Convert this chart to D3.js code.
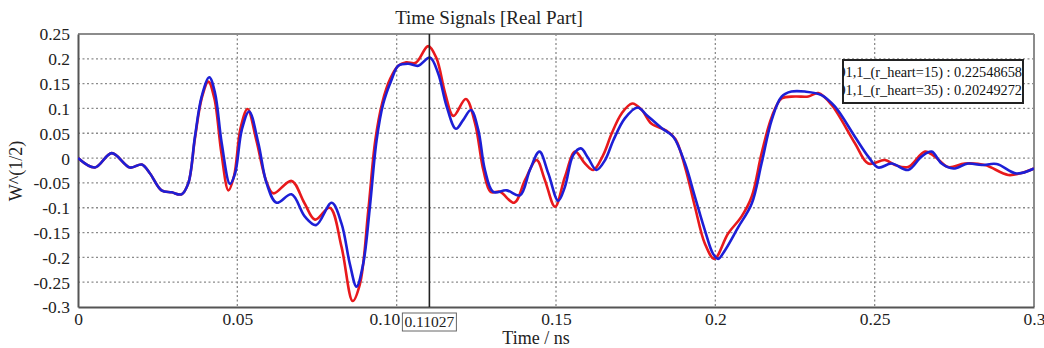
<!DOCTYPE html>
<html>
<head>
<meta charset="utf-8">
<script src="https://cdn.jsdelivr.net/npm/d3@7"></script>
<style>
  body { margin: 0; background: #ffffff; }
  svg text { font-family: "Liberation Serif", "DejaVu Serif", serif; fill: #222; }
</style>
</head>
<body>
<div id="chart"></div>
<script>
// data
var red_t = [0,0.0053,0.0106,0.0163,0.02,0.0226,0.0262,0.0294,0.0325,0.0346,0.0367,0.0388,0.0409,0.0428,0.045,0.0472,0.049,0.051,0.0532,0.056,0.059,0.0613,0.067,0.071,0.0744,0.079,0.0827,0.0862,0.0885,0.0911,0.0933,0.0955,0.098,0.1005,0.103,0.106,0.1099,0.1125,0.1152,0.1178,0.1217,0.1246,0.1272,0.1295,0.1324,0.1369,0.1403,0.1439,0.1465,0.1497,0.1528,0.156,0.1591,0.1617,0.1648,0.1675,0.1706,0.1739,0.1769,0.18,0.1847,0.1875,0.1905,0.1936,0.1967,0.1997,0.204,0.2082,0.2114,0.2145,0.2177,0.2208,0.225,0.2292,0.2323,0.2365,0.2438,0.248,0.2532,0.2564,0.2605,0.2658,0.2689,0.2731,0.2783,0.2846,0.2919,0.2961,0.3]
var red_v = [0,-0.019,0.01,-0.019,-0.013,-0.031,-0.065,-0.069,-0.073,-0.051,0.04,0.12,0.154,0.12,0.01,-0.065,-0.035,0.06,0.099,0.035,-0.045,-0.071,-0.046,-0.09,-0.124,-0.1,-0.179,-0.288,-0.253,-0.105,0.036,0.112,0.16,0.186,0.193,0.192,0.2255,0.201,0.131,0.085,0.119,0.07,-0.024,-0.068,-0.068,-0.09,-0.044,-0.004,-0.044,-0.098,-0.038,0.013,-0.011,-0.024,0.006,0.05,0.09,0.11,0.097,0.069,0.055,0.038,-0.018,-0.098,-0.172,-0.203,-0.152,-0.118,-0.078,0.009,0.083,0.12,0.124,0.124,0.131,0.107,0.03,-0.011,-0.004,-0.014,-0.018,0.013,0.003,-0.018,-0.011,-0.014,-0.034,-0.03,-0.021]

var blue_t = [0,0.0053,0.0106,0.0163,0.02,0.0226,0.0262,0.0294,0.0325,0.0346,0.0367,0.0388,0.0412,0.043,0.0451,0.0477,0.0493,0.0514,0.0537,0.0566,0.0592,0.0623,0.067,0.0712,0.0747,0.0796,0.0827,0.0853,0.0874,0.0895,0.0916,0.0937,0.0958,0.0984,0.1005,0.1036,0.1068,0.1104,0.113,0.1157,0.1186,0.1209,0.1233,0.1256,0.1277,0.1303,0.1345,0.1387,0.1418,0.1448,0.1476,0.1507,0.1528,0.1554,0.1578,0.1601,0.1627,0.1654,0.168,0.1716,0.1756,0.1784,0.1832,0.1868,0.1905,0.1936,0.1967,0.1993,0.2009,0.203,0.2072,0.2114,0.2145,0.2177,0.2208,0.2239,0.2281,0.2333,0.2375,0.2438,0.248,0.2511,0.2553,0.2605,0.2647,0.2679,0.271,0.2747,0.2793,0.2836,0.2883,0.2945,0.3]
var blue_v = [0,-0.019,0.01,-0.019,-0.013,-0.031,-0.065,-0.069,-0.073,-0.051,0.043,0.124,0.163,0.131,0.03,-0.052,-0.031,0.057,0.094,0.03,-0.051,-0.09,-0.073,-0.118,-0.135,-0.09,-0.132,-0.213,-0.259,-0.213,-0.098,0.036,0.11,0.158,0.186,0.19,0.186,0.2025,0.171,0.104,0.059,0.077,0.097,0.057,-0.024,-0.068,-0.065,-0.075,-0.024,0.013,-0.031,-0.086,-0.058,0.006,0.0195,0,-0.024,-0.004,0.036,0.08,0.102,0.087,0.06,0.043,-0.011,-0.078,-0.145,-0.193,-0.203,-0.186,-0.139,-0.092,-0.011,0.077,0.124,0.134,0.134,0.127,0.104,0.043,0.003,-0.019,-0.011,-0.024,0.003,0.013,-0.011,-0.021,-0.011,-0.014,-0.012,-0.031,-0.021]

var x_ticks = [0,0.05,0.1,0.15,0.2,0.25,0.3]
var x_labels = ["0","0.05","0.10","0.15","0.2","0.25","0.3"]
var y_ticks = [0.25,0.2,0.15,0.1,0.05,0,-0.05,-0.1,-0.15,-0.2,-0.25,-0.3]
var y_labels = ["0.25","0.2","0.15","0.1","0.05","0","-0.05","-0.1","-0.15","-0.2","-0.25","-0.3"]
var marker_t = 0.11027
var legend_lines = ["01,1_(r_heart=15) : 0.22548658","01,1_(r_heart=35) : 0.20249272"]

var width = 1044, height = 348
var p_left = 78, p_right = 1034, p_top = 34, p_bottom = 307

var svg = d3.select("#chart").append("svg")
  .attr("width", width).attr("height", height)

var x = d3.scaleLinear().domain([0,0.3]).range([p_left,p_right])
var y = d3.scaleLinear().domain([-0.3,0.25]).range([p_bottom,p_top])

//grid
svg.append("g").selectAll("line")
  .data(x_ticks.slice(1,-1)).enter().append("line")
  .attr("x1", function(d){return x(d)}).attr("x2", function(d){return x(d)})
  .attr("y1", p_top).attr("y2", p_bottom)
  .style("stroke", "#8a8a8a").style("stroke-width", 1.3).style("stroke-dasharray", "2,2.5")
svg.append("g").selectAll("line")
  .data(y_ticks.slice(1,-1)).enter().append("line")
  .attr("x1", p_left).attr("x2", p_right)
  .attr("y1", function(d){return y(d)}).attr("y2", function(d){return y(d)})
  .style("stroke", "#8a8a8a").style("stroke-width", 1.3).style("stroke-dasharray", "2,2.5")

//frame
svg.append("line").attr("x1", p_left).attr("x2", p_right).attr("y1", p_top).attr("y2", p_top)
  .style("stroke", "#8c8c8c").style("stroke-width", 2)
svg.append("line").attr("x1", p_right).attr("x2", p_right).attr("y1", p_top).attr("y2", p_bottom)
  .style("stroke", "#8c8c8c").style("stroke-width", 2)

//axes
var xAxis = d3.axisBottom(x).tickValues(x_ticks).tickSize(0)
  .tickFormat(function(d,i){return x_labels[i]})
var gx = svg.append("g").attr("transform", "translate(0,"+p_bottom+")").call(xAxis)
gx.select(".domain").style("stroke", "#555").style("stroke-width", 2)
gx.selectAll("text").attr("dy", 0).attr("y", 18).style("font-size", "17.5px")
  .style("font-family", "Liberation Serif").style("fill", "#222")
// 0.10 label is pushed left by the marker label
gx.selectAll(".tick").filter(function(d){return d==0.1}).select("text")
  .attr("text-anchor", "end").attr("x", 3)

var yAxis = d3.axisLeft(y).tickValues(y_ticks).tickSize(0)
  .tickFormat(function(d,i){return y_labels[i]})
var gy = svg.append("g").attr("transform", "translate("+p_left+",0)").call(yAxis)
gy.select(".domain").style("stroke", "#555").style("stroke-width", 2)
gy.selectAll("text").attr("x", -8).attr("dy", "0.34em").style("font-size", "17.5px")
  .style("font-family", "Liberation Serif").style("fill", "#222")

//lines
svg.append("clipPath").attr("id", "plot_clip").append("rect")
  .attr("x", p_left).attr("y", p_top).attr("width", p_right-p_left).attr("height", p_bottom-p_top)

var line = d3.line()
  .x(function(d){return x(d[0])})
  .y(function(d){return y(d[1])})
  .curve(d3.curveCatmullRom.alpha(0.5))

var red_data = red_t.map(function(t,i){return [t, red_v[i]]})
var blue_data = blue_t.map(function(t,i){return [t, blue_v[i]]})

var plot = svg.append("g").attr("clip-path", "url(#plot_clip)")
plot.append("path").datum(red_data).attr("d", line)
  .style("fill", "none").style("stroke", "#e8191c").style("stroke-width", 2.6)
plot.append("path").datum(blue_data).attr("d", line)
  .style("fill", "none").style("stroke", "#1d1fd6").style("stroke-width", 2.6)

//marker
svg.append("line").attr("x1", x(marker_t)).attr("x2", x(marker_t))
  .attr("y1", p_top).attr("y2", p_bottom)
  .style("stroke", "#222").style("stroke-width", 1.6)
svg.append("rect").attr("x", x(marker_t)-27).attr("y", 313).attr("width", 54).attr("height", 18)
  .style("fill", "#fff").style("stroke", "#666").style("stroke-width", 1)
svg.append("text").attr("x", x(marker_t)).attr("y", 327).attr("text-anchor", "middle")
  .style("font-size", "15.5px").text(marker_t.toFixed(5))

//legend box
var lx = 843, ly = 60, lw = 180, lh = 43
svg.append("clipPath").attr("id", "legend_clip").append("rect")
  .attr("x", lx).attr("y", ly).attr("width", lw).attr("height", lh)
svg.append("rect").attr("x", lx).attr("y", ly).attr("width", lw).attr("height", lh)
  .style("fill", "#fff").style("stroke", "#222").style("stroke-width", 2)
svg.append("g").attr("clip-path", "url(#legend_clip)").selectAll("text")
  .data(legend_lines).enter().append("text")
  .attr("x", lx+lw-1).attr("y", function(d,i){return ly+17+i*18})
  .attr("text-anchor", "end").style("font-size", "14.3px").style("fill", "#111")
  .text(function(d){return d})

//titles
svg.append("text").attr("x", 489).attr("y", 24).attr("text-anchor", "middle")
  .style("font-size", "19px").text("Time Signals [Real Part]")
svg.append("text").attr("x", 536).attr("y", 344).attr("text-anchor", "middle")
  .style("font-size", "18px").text("Time / ns")
svg.append("text").attr("transform", "translate(22,171) rotate(-90)").attr("text-anchor", "middle")
  .style("font-size", "18px").text("W^(1/2)")
</script>
</body>
</html>
